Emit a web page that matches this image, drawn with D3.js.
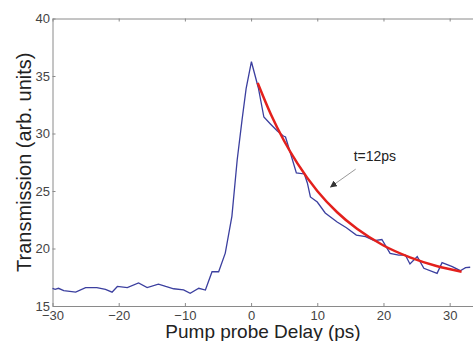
<!DOCTYPE html>
<html>
<head>
<meta charset="utf-8">
<script src="https://cdn.jsdelivr.net/npm/d3@7"></script>
<style>
  body { margin: 0; background: #fff; }
  svg { display: block; font-family: "Liberation Sans", Arial, sans-serif; }
</style>
</head>
<body>
<div id="chart"></div>
<script>
// measured trace (blue)
const delayPs = [-30, -29.6, -29.1, -28.3, -26.5, -25.0, -23.3, -22.0, -21.0, -20.2, -18.7, -17.0, -15.7, -14.0, -12.9, -11.7,
  -10.2, -9.2, -7.9, -6.9, -5.9, -4.9, -3.9, -2.9, -2.1, -1.36, -0.75, 0.05,
  1.1, 1.93, 2.92, 3.97, 4.88, 5.2, 5.94, 6.84, 8.05, 8.5, 8.96, 10.0, 11.2, 13.0, 14.4, 15.9, 17.3, 18.6, 19.76,
  21.0, 22.3, 23.3, 24.0, 25.1, 26.1, 28.1, 28.85, 30.4, 31.6, 32.4, 33.1];
const transmission = [16.54, 16.45, 16.54, 16.33, 16.2, 16.6, 16.6, 16.45, 16.2, 16.7, 16.6, 17.0, 16.6, 16.9, 16.7, 16.5,
  16.4, 16.1, 16.54, 16.39, 17.98, 17.98, 19.6, 22.8, 27.7, 31.2, 33.9, 36.24,
  33.96, 31.43, 30.83, 30.22, 29.78, 29.7, 28.3, 26.57, 26.48, 25.7, 24.48, 24.04, 23.09, 22.3, 21.8, 21.17, 21.03, 20.68, 20.78,
  19.58, 19.43, 19.43, 18.65, 19.29, 18.28, 17.84, 18.77, 18.42, 18.07, 18.33, 18.37];

// decay fit (red)
const fitDelay = [1, 3, 5, 7, 10, 13, 16, 20, 24, 28, 31.8];
const fitValue = [34.4, 31.66, 29.35, 27.4, 25.0, 23.15, 21.71, 20.26, 19.23, 18.48, 17.98];

const xTicks = [-30, -20, -10, 0, 10, 20, 30];
const yTicks = [15, 20, 25, 30, 35, 40];
const xLabel = 'Pump probe Delay (ps)';
const yLabel = 'Transmission (arb. units)';
const note = 't=12ps';

const W = 473, H = 341;
const margin = { top: 18.5, right: 0, bottom: 35, left: 52.5 };
const plotW = 421, plotH = 287.5;

const svg = d3.select('#chart').append('svg')
  .attr('width', W)
  .attr('height', H);

const x = d3.scaleLinear().domain([-30, 33.6]).range([margin.left, margin.left + plotW]);
const y = d3.scaleLinear().domain([15, 40]).range([margin.top + plotH, margin.top]);

const axisColor = '#8a8a8a';

function styleAxis(g) {
  g.selectAll('.domain').attr('stroke', axisColor);
  g.selectAll('.tick line').attr('stroke', axisColor);
  g.selectAll('text').attr('fill', '#444').style('font-size', '13px');
}

svg.append('g')
  .attr('transform', `translate(0,${margin.top + plotH})`)
  .call(d3.axisBottom(x).tickValues(xTicks).tickSize(-3).tickSizeOuter(0).tickPadding(5))
  .call(styleAxis);

svg.append('g')
  .attr('transform', `translate(0,${margin.top})`)
  .call(d3.axisTop(x).tickValues(xTicks).tickSize(-3).tickSizeOuter(0).tickFormat(''))
  .call(styleAxis);

svg.append('g')
  .attr('transform', `translate(${margin.left},0)`)
  .call(d3.axisLeft(y).tickValues(yTicks).tickSize(-3).tickSizeOuter(0).tickPadding(2.5))
  .call(styleAxis);

const blue = delayPs.map((d, i) => [d, transmission[i]]);
const red = fitDelay.map((d, i) => [d, fitValue[i]]);

svg.append('path')
  .datum(blue)
  .attr('fill', 'none')
  .attr('stroke', '#3b3f9f')
  .attr('stroke-width', 1.3)
  .attr('d', d3.line().x(d => x(d[0])).y(d => y(d[1])));

svg.append('path')
  .datum(red)
  .attr('fill', 'none')
  .attr('stroke', '#e3201c')
  .attr('stroke-width', 2.5)
  .attr('d', d3.line().curve(d3.curveMonotoneX).x(d => x(d[0])).y(d => y(d[1])));

// annotation arrow
svg.append('defs').append('marker')
  .attr('id', 'head')
  .attr('viewBox', '0 0 10 10')
  .attr('refX', 9).attr('refY', 5)
  .attr('markerWidth', 7).attr('markerHeight', 7)
  .attr('markerUnits', 'userSpaceOnUse')
  .attr('orient', 'auto')
  .append('path')
  .attr('d', 'M0,0L10,5L0,10z')
  .attr('fill', '#333');

svg.append('line')
  .attr('x1', x(15.8)).attr('y1', y(26.9))
  .attr('x2', x(12.0)).attr('y2', y(25.35))
  .attr('stroke', '#999')
  .attr('stroke-width', 1)
  .attr('marker-end', 'url(#head)');

svg.append('text')
  .attr('x', x(15.5))
  .attr('y', y(27.6))
  .attr('fill', '#222')
  .style('font-size', '14px')
  .text(note);

svg.append('text')
  .attr('x', margin.left + plotW / 2)
  .attr('y', 338)
  .attr('text-anchor', 'middle')
  .attr('fill', '#222')
  .style('font-size', '19px')
  .text(xLabel);

svg.append('text')
  .attr('transform', `translate(31,${margin.top + plotH / 2}) rotate(-90)`)
  .attr('text-anchor', 'middle')
  .attr('fill', '#222')
  .style('font-size', '20px')
  .text(yLabel);
</script>
</body>
</html>
